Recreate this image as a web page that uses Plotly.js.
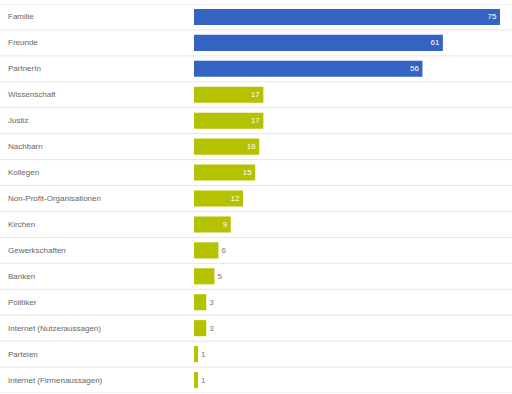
<!DOCTYPE html>
<html>
<head>
<meta charset="utf-8">
<script src="https://cdn.plot.ly/plotly-3.0.1.min.js"></script>
<style>html,body{margin:0;padding:0;background:#fff;}#chart{width:512px;height:394px;}</style>
</head>
<body>
<div id="chart"></div>
<script>
var categories = ["Familie","Freunde","PartnerIn","Wissenschaft","Justiz","Nachbarn","Kollegen","Non-Profit-Organisationen","Kirchen","Gewerkschaften","Banken","Politiker","Internet (Nutzeraussagen)","Parteien","Internet (Firmenaussagen)"];
var values = [75,61,56,17,17,16,15,12,9,6,5,3,3,1,1];
var groups = ["blue","blue","blue","green","green","green","green","green","green","green","green","green","green","green","green"];

var colorMap = {blue:"#3563c4", green:"#b5c200"};
var colors = groups.map(function(g){return colorMap[g];});
var positions = values.map(function(v){return v >= 9 ? "inside" : "outside";});
var textColors = values.map(function(v){return v >= 9 ? "#ffffff" : "#777777";});

var trace = {
  type: "bar",
  orientation: "h",
  y: categories,
  x: values,
  marker: {color: colors},
  text: values.map(String),
  textposition: positions,
  insidetextanchor: "end",
  constraintext: "none",
  textfont: {family: "Liberation Sans, Arial, sans-serif", size: 8, color: textColors},
  cliponaxis: false,
  hoverinfo: "none"
};

var shapes = [];
for (var i = 0; i <= categories.length; i++) {
  shapes.push({type:"line", xref:"paper", yref:"y", x0:0, x1:1, y0:i-0.5, y1:i-0.5,
    line:{color:"#e6e6e6", width:1}, layer:"below"});
}
var annotations = categories.map(function(c){
  return {xref:"paper", yref:"y", x:0.012, y:c, text:c, showarrow:false, xanchor:"left",
    font:{family:"Liberation Sans, Arial, sans-serif", size:8, color:"#666666"}};
});

var layout = {
  width: 512, height: 394,
  margin: {l:0, r:0, t:4, b:1, pad:0},
  paper_bgcolor: "#ffffff", plot_bgcolor: "#ffffff",
  showlegend: false,
  bargap: 0.38,
  xaxis: {range: [-47.55, 77.94], showgrid:false, zeroline:false, showticklabels:false, ticks:""},
  yaxis: {type:"category", autorange:false, range:[14.5,-0.5], showgrid:false, zeroline:false, showticklabels:false, ticks:""},
  shapes: shapes,
  annotations: annotations
};

Plotly.newPlot("chart", [trace], layout, {staticPlot:true, displayModeBar:false});
</script>
</body>
</html>
